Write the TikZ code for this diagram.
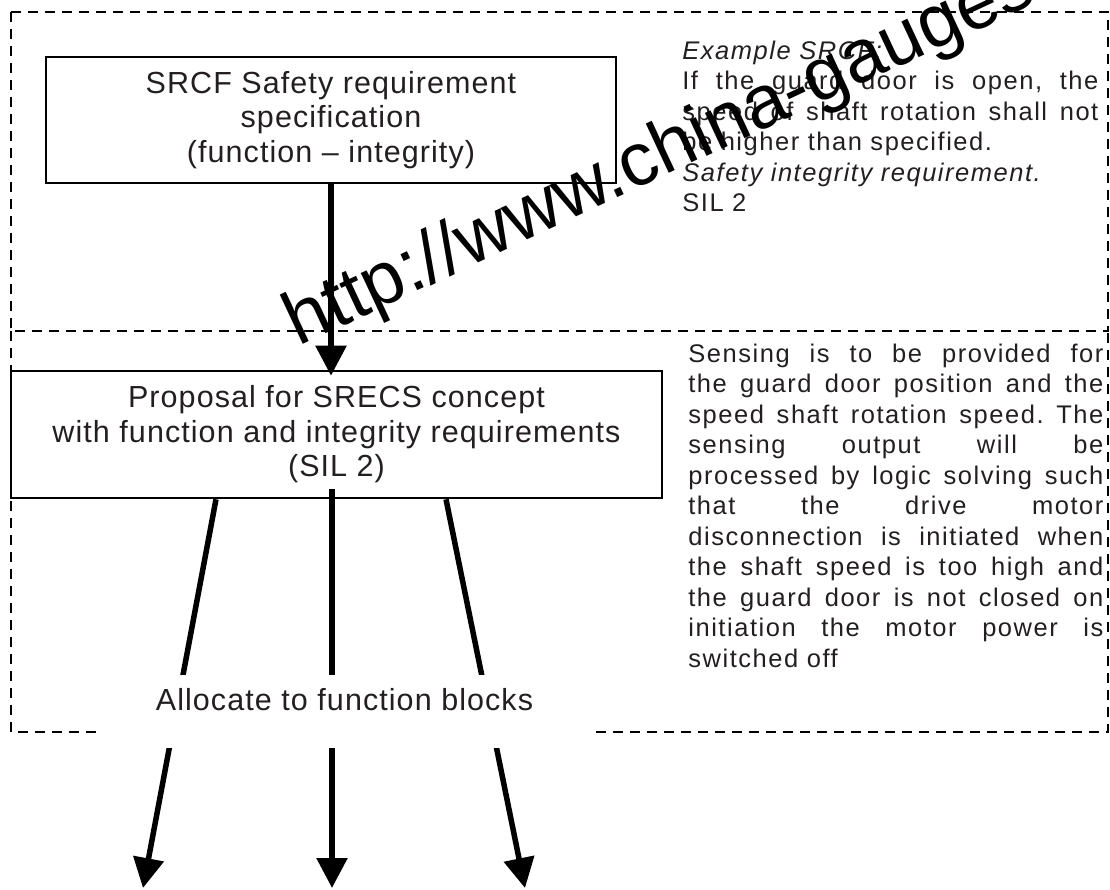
\documentclass[tikz,border=0pt]{standalone}
\usepackage{fontspec}
\setmainfont{Liberation Sans}
\newfontfamily\lblfont{Liberation Sans}[LetterSpace=3.5]
\newfontfamily\notefont{Liberation Sans}[LetterSpace=6]
\usetikzlibrary{arrows.meta}
\definecolor{ink}{RGB}{35,31,32}
% one fully justified line of a note (font spaces, so they can stretch)
\newcommand\jline[2][208pt]{\makebox[#1][s]{\spaceskip=0pt\xspaceskip=0pt\frenchspacing #2}}

\begin{document}
\begin{tikzpicture}[x=0.5pt,y=-0.5pt,
  zone/.style={draw=black, line width=1.4pt, dash pattern=on 5pt off 3.5pt},
  stage/.style={draw=black, line width=1.3pt, rectangle, inner sep=0pt, align=center,
    text=ink, font=\lblfont\fontsize{15.25}{17.25}\selectfont},
  flow/.style={draw=black, line width=2.75pt, -{Triangle[length=15pt,width=15pt]}},
  note/.style={anchor=north west, inner sep=0pt, align=left, text=ink,
    font=\notefont\fontsize{12.75}{15.25}\selectfont},
  mark text/.style={rotate=25, anchor=base west, inner sep=0pt, text=black,
    font=\fontsize{37.5}{40}\selectfont},
]
\useasboundingbox (0,0) rectangle (1110,890);

% dashed zones: specification (top) and concept (bottom)
\draw[zone] (11,12) rectangle (1108,331);
\draw[zone] (11,331) -- (11,732) -- (1108,732) -- (1108,331);

% stages
\node[stage, minimum width=285pt, minimum height=63pt] (srcf) at (331,120)
  {SRCF Safety requirement\\specification\\(function – integrity)};
\node[stage, minimum width=325.5pt, minimum height=63.5pt] (prop) at (336.5,434.5)
  {Proposal for SRECS concept\\with function and integrity requirements\\(SIL 2)};

% explanatory notes
\node[note, text width=208pt] (example) at (682,40.5)
  {\textit{Example SRCF:}\\
   \jline{If the guard door is open, the}\\
   \jline{speed of shaft rotation shall not}\\
   be higher than specified.\\
   \textit{Safety integrity requirement.}\\
   SIL 2};
\node[note, text width=207.5pt] (sensing) at (688,343.4)
  {\jline[207.5pt]{Sensing is to be provided for}\\
   \jline[207.5pt]{the guard door position and the}\\
   \jline[207.5pt]{speed shaft rotation speed. The}\\
   \jline[207.5pt]{sensing output will be}\\
   \jline[207.5pt]{processed by logic solving such}\\
   \jline[207.5pt]{that the drive motor}\\
   \jline[207.5pt]{disconnection is initiated when}\\
   \jline[207.5pt]{the shaft speed is too high and}\\
   \jline[207.5pt]{the guard door is not closed on}\\
   \jline[207.5pt]{initiation the motor power is}\\
   switched off};

% arrows
\coordinate (t1) at (143,888);
\coordinate (t2) at (332,888);
\coordinate (t3) at (525,888);
\draw[flow] (srcf.south) -- ([yshift=-3pt]prop.north -| srcf.south);
\draw[flow] ([xshift=-60.25pt]prop.south) -- (t1);
\draw[flow] ([xshift=-2.25pt,yshift=5pt]prop.south) -- (t2);
\draw[flow] ([xshift=54.75pt]prop.south) -- (t3);

% allocation label, masking the arrows and the zone border behind it
\node[fill=white, inner sep=0pt, minimum width=246.5pt, text height=17.5pt, text depth=19pt,
  text=ink, font=\lblfont\fontsize{15.25}{17.25}\selectfont, anchor=base] (alloc) at (344.5,710)
  {Allocate to function blocks};

% overprinted site address
\node[mark text] (site) at (298,347) {http://www.china-gauges.};
\end{tikzpicture}
\end{document}
